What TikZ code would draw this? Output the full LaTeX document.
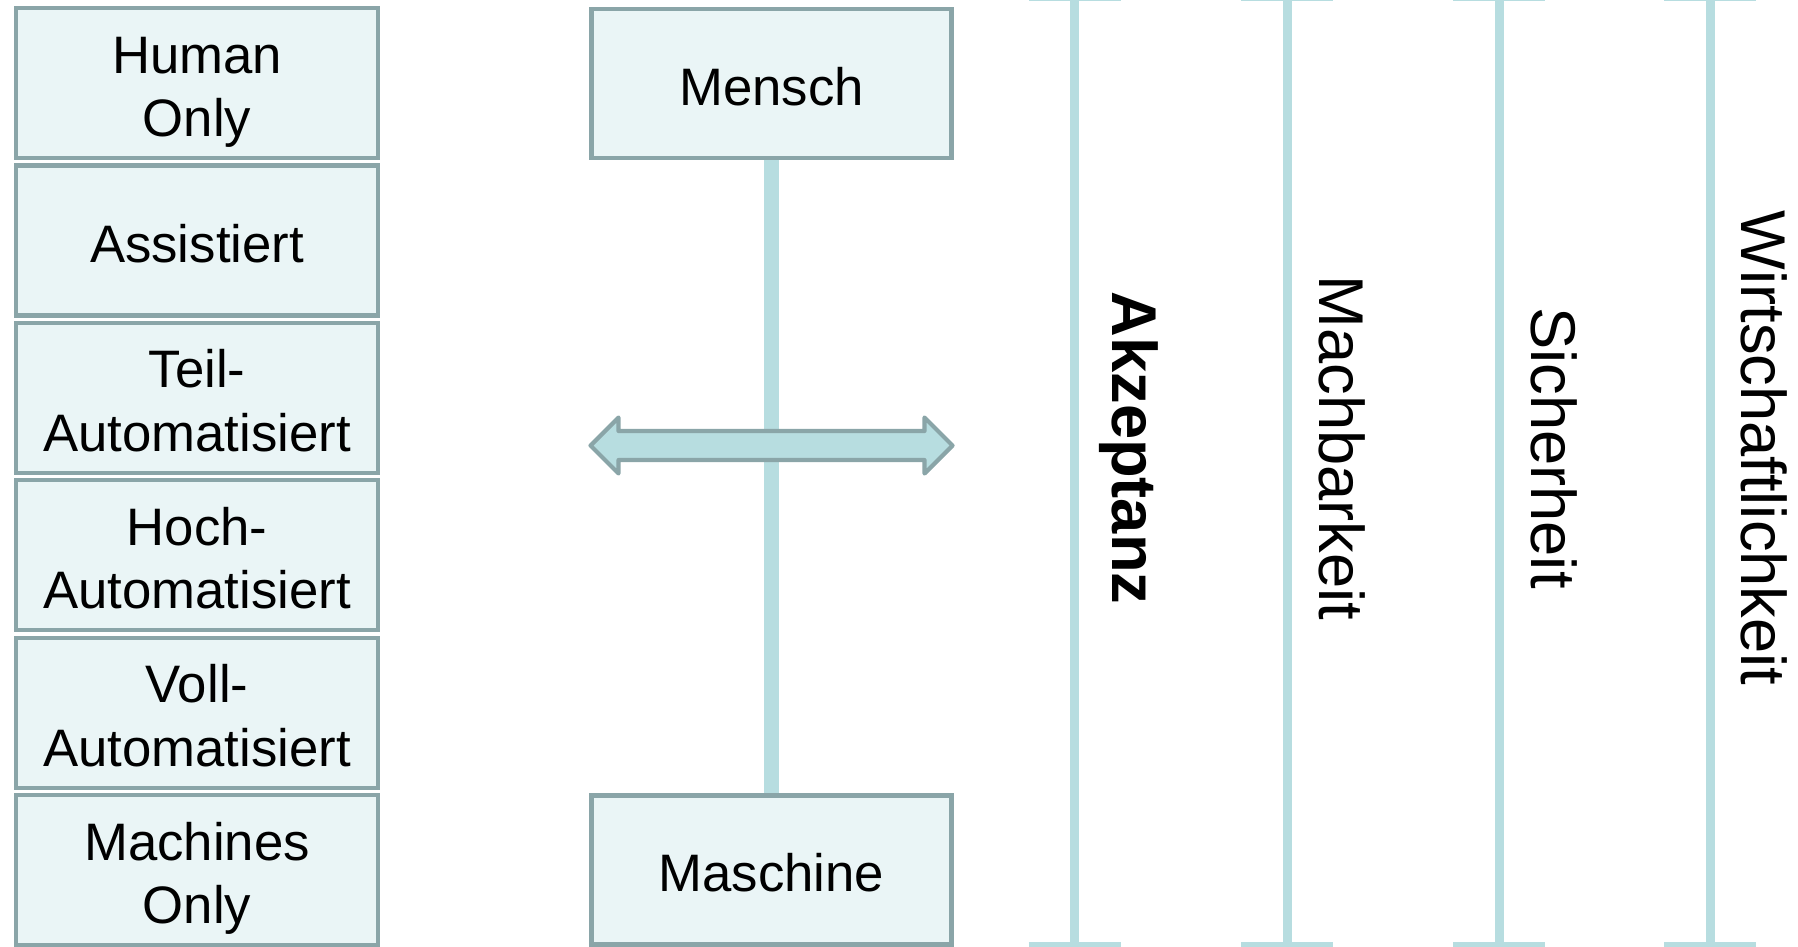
\documentclass[tikz,border=0pt]{standalone}
\usepackage{fontspec}
\setmainfont{Liberation Sans}
\usepackage{xcolor}

\definecolor{boxfill}{RGB}{234,245,246}
\definecolor{boxline}{RGB}{138,165,168}
\definecolor{barblue}{RGB}{183,221,224}

% box text, lines centred, first row a little taller
\newcommand{\lvl}[1]{\begin{tabular}{@{}c@{}}\rule{0pt}{17.8pt}#1\end{tabular}}

\tikzset{
	level/.style={draw=boxline, line width=1.2pt, fill=boxfill,
		minimum width=3.62cm, minimum height=1.5cm, inner sep=0pt,
		font=\fontsize{15}{18}\selectfont},
	pole/.style={draw=barblue, line width=0.09cm},
	link/.style={draw=barblue, line width=0.15cm},
	dblarrow/.style={draw=boxline, fill=barblue, line width=1.2pt, line join=round},
	crit/.style={rotate=-90, inner sep=0pt, font=\fontsize{18}{22}\selectfont},
}

\begin{document}
\begin{tikzpicture}
				\useasboundingbox (0,0) rectangle (17.98,-9.46);
				%\draw[help lines] (0,0) grid (18,-10);
				
				\node[level] (human)  at (1.97,-0.83) {\lvl{Human\\Only}};
				\node[level] (assist) at (1.97,-2.404) {\lvl{Assistiert}};
				\node[level] (teil)   at (1.97,-3.978) {\lvl{Teil-\\Automatisiert}};
				\node[level] (hoch)   at (1.97,-5.552) {\lvl{Hoch-\\Automatisiert}};
				\node[level] (voll)   at (1.97,-7.126) {\lvl{Voll-\\Automatisiert}};
				\node[level] (mach)   at (1.97,-8.70) {\lvl{Machines\\Only}};
				
				\node[level, minimum width=3.60cm, minimum height=1.49cm] (mensch)   at (7.715,-0.835) {\lvl{Mensch}};
				\node[level, minimum width=3.60cm, minimum height=1.49cm] (maschine) at (7.715,-8.70) {\lvl{Maschine}};
				
				\draw[link] (mensch.south) -- (maschine.north);
				
				\coordinate (mid) at (7.715,-4.455);
				\draw[dblarrow, shift={(mid)}]
					(-1.81,0) -- (-1.53,0.28) -- (-1.53,0.145) -- (1.53,0.145) -- (1.53,0.28)
					-- (1.81,0) -- (1.53,-0.28) -- (1.53,-0.145) -- (-1.53,-0.145) -- (-1.53,-0.28) -- cycle;
				
				\coordinate (akzT) at (10.745,0.035);  \coordinate (akzB) at (10.745,-9.465);
				\coordinate (macT) at (12.87,0.035);   \coordinate (macB) at (12.87,-9.465);
				\coordinate (sicT) at (14.99,0.035);   \coordinate (sicB) at (14.99,-9.465);
				\coordinate (wirT) at (17.10,0.035);   \coordinate (wirB) at (17.10,-9.465);
				
				\draw[pole] (akzT) -- (akzB) ([xshift=-0.46cm]akzT) -- ([xshift=0.46cm]akzT) ([xshift=-0.46cm]akzB) -- ([xshift=0.46cm]akzB);
				\draw[pole] (macT) -- (macB) ([xshift=-0.46cm]macT) -- ([xshift=0.46cm]macT) ([xshift=-0.46cm]macB) -- ([xshift=0.46cm]macB);
				\draw[pole] (sicT) -- (sicB) ([xshift=-0.46cm]sicT) -- ([xshift=0.46cm]sicT) ([xshift=-0.46cm]sicB) -- ([xshift=0.46cm]sicB);
				\draw[pole] (wirT) -- (wirB) ([xshift=-0.46cm]wirT) -- ([xshift=0.46cm]wirT) ([xshift=-0.46cm]wirB) -- ([xshift=0.46cm]wirB);
				
				\node[crit, font=\fontsize{18}{22}\selectfont\bfseries] (akz) at (11.29,-4.48) {Akzeptanz};
				\node[crit] (machb) at (13.42,-4.48) {Machbarkeit};
				\node[crit] (sich)  at (15.54,-4.48) {Sicherheit};
				\node[crit] (wirt)  at (17.645,-4.48) {Wirtschaftlichkeit};
				\end{tikzpicture}
\end{document}
